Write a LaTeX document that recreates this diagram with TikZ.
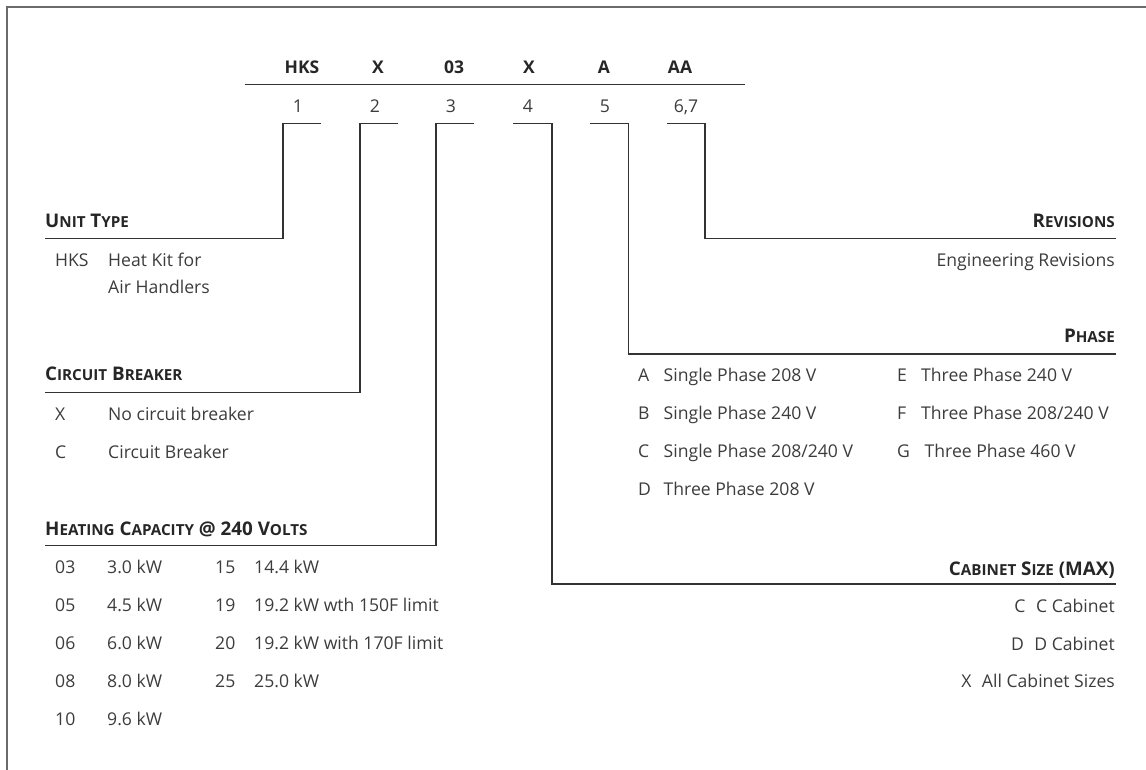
\documentclass[tikz,border=0pt]{standalone}
\usepackage{fontspec}
\setmainfont{Open Sans}
\definecolor{txt}{HTML}{3C3C3C}
\definecolor{hd}{HTML}{262626}
\definecolor{ln}{HTML}{333333}
\definecolor{fr}{HTML}{6B6B6B}
\newcommand\smc[1]{{\fontsize{15.2}{16}\selectfont #1}}
\tikzset{
  txtn/.style={font=\fontsize{17.6}{21}\selectfont, text=txt, inner sep=0pt},
  txtw/.style={txtn, anchor=base west},
  txte/.style={txtn, anchor=base east},
  txtc/.style={txtn, anchor=base},
  hdw/.style={txtw, text=hd, font=\fontsize{18.8}{21}\selectfont\bfseries},
  hde/.style={txte, text=hd, font=\fontsize{18.8}{21}\selectfont\bfseries},
  topc/.style={txtc, text=hd, font=\fontsize{17.5}{21}\selectfont\bfseries},
  conn/.style={draw=ln, line width=1.2pt},
  framel/.style={draw=fr, line width=2pt}
}
\begin{document}
\begin{tikzpicture}[x=1pt,y=-1pt]
\useasboundingbox (0,0) rectangle (1146,770);
% frame
\coordinate (fa) at (7,770);
\coordinate (fb) at (7,7.5);
\coordinate (fc) at (1146,7.5);
\draw[framel] (fa) -- (fb) -- (fc);

% top code
\node[topc] (L1) at (302,73.5) {HKS};
\node[topc] (L2) at (378,73.5) {X};
\node[topc] (L3) at (454,73.5) {03};
\node[topc] (L4) at (529,73.5) {X};
\node[topc] (L5) at (604,73.5) {A};
\node[topc] (L6) at (680,73.5) {AA};
\coordinate (tla) at (244.5,84.7);
\coordinate (tlb) at (744.5,84.7);
\draw[conn] (tla) -- (tlb);
\node[txtc] (D1) at (298,112.5) {1};
\node[txtc] (D2) at (375,112.5) {2};
\node[txtc] (D3) at (451,112.5) {3};
\node[txtc] (D4) at (528,112.5) {4};
\node[txtc] (D5) at (605,112.5) {5};
\node[txtc] (D6) at (686,112.5) {6,7};

% bracket coordinates
\coordinate (t1) at (321,123.3); \coordinate (c1) at (283,123.3); \coordinate (u1) at (45,238.3);
\coordinate (t2) at (398,123.3); \coordinate (c2) at (360,123.3); \coordinate (u2) at (45,392.3);
\coordinate (t3) at (474,123.3); \coordinate (c3) at (436,123.3); \coordinate (u3) at (45,545.7);
\coordinate (t4) at (513,123.3); \coordinate (c4) at (552,123.3); \coordinate (u4) at (1116,584);
\coordinate (t5) at (590,123.3); \coordinate (c5) at (628.5,123.3); \coordinate (u5) at (1116,354);
\coordinate (t6) at (667,123.3); \coordinate (c6) at (705,123.3); \coordinate (u6) at (1116,238.3);
\draw[conn] (t1) -- (c1) |- (u1);
\draw[conn] (t2) -- (c2) |- (u2);
\draw[conn] (t3) -- (c3) |- (u3);
\draw[conn] (t4) -- (c4) |- (u4);
\draw[conn] (t5) -- (c5) |- (u5);
\draw[conn] (t6) -- (c6) |- (u6);

% Unit type
\node[hdw] (H1) at (45,227.5) {U\smc{NIT} T\smc{YPE}};
\node[txtw] (a1) at (55,266.5) {HKS};
\node[txtw] (a2) at (108,266.5) {Heat Kit for};
\node[txtw] (a3) at (108,293) {Air Handlers};

% Circuit breaker
\node[hdw] (H2) at (45,380) {C\smc{IRCUIT} B\smc{REAKER}};
\node[txtw] (b1) at (55,420) {X};
\node[txtw] (b2) at (108,420) {No circuit breaker};
\node[txtw] (b3) at (55,458) {C};
\node[txtw] (b4) at (108,458) {Circuit Breaker};

% Heating capacity
\node[hdw] (H3) at (45,535) {H\smc{EATING} C\smc{APACITY} @ 240 V\smc{OLTS}};
\node[txtw] (k1) at (55,573) {03};   \node[txtw] (v1) at (107,573) {3.0 kW};
\node[txtw] (k2) at (55,611) {05};   \node[txtw] (v2) at (107,611) {4.5 kW};
\node[txtw] (k3) at (55,649.5) {06}; \node[txtw] (v3) at (107,649.5) {6.0 kW};
\node[txtw] (k4) at (55,687.5) {08}; \node[txtw] (v4) at (107,687.5) {8.0 kW};
\node[txtw] (k5) at (55,725.5) {10}; \node[txtw] (v5) at (107,725.5) {9.6 kW};
\node[txtw] (k6) at (215,573) {15};   \node[txtw] (v6) at (254,573) {14.4 kW};
\node[txtw] (k7) at (215,611) {19};   \node[txtw] (v7) at (254,611) {19.2 kW wth 150F limit};
\node[txtw] (k8) at (215,649.5) {20}; \node[txtw] (v8) at (254,649.5) {19.2 kW with 170F limit};
\node[txtw] (k9) at (215,687.5) {25}; \node[txtw] (v9) at (254,687.5) {25.0 kW};

% Revisions
\node[hde] (H6) at (1115,227.5) {R\smc{EVISIONS}};
\node[txte] (r1) at (1115,266.5) {Engineering Revisions};

% Phase
\node[hde] (H5) at (1115,342) {P\smc{HASE}};
\node[txtw] (p1) at (638,381) {A};   \node[txtw] (q1) at (663.5,381) {Single Phase 208 V};
\node[txtw] (p2) at (638,419) {B};   \node[txtw] (q2) at (663.5,419) {Single Phase 240 V};
\node[txtw] (p3) at (638,457.5) {C}; \node[txtw] (q3) at (663.5,457.5) {Single Phase 208/240 V};
\node[txtw] (p4) at (638,495.5) {D}; \node[txtw] (q4) at (663.5,495.5) {Three Phase 208 V};
\node[txtw] (p5) at (897,381) {E};   \node[txtw] (q5) at (921,381) {Three Phase 240 V};
\node[txtw] (p6) at (897,419) {F};   \node[txtw] (q6) at (921,419) {Three Phase 208/240 V};
\node[txtw] (p7) at (897,457.5) {G}; \node[txtw] (q7) at (924.5,457.5) {Three Phase 460 V};

% Cabinet size
\node[hde] (H4) at (1115,575.5) {C\smc{ABINET} S\smc{IZE} (MAX)};
\node[txte] (s1) at (1115,612) {C\hspace{0.6em}C Cabinet};
\node[txte] (s2) at (1115,650) {D\hspace{0.6em}D Cabinet};
\node[txte] (s3) at (1115,687.5) {X\hspace{0.6em}All Cabinet Sizes};
\end{tikzpicture}
\end{document}
